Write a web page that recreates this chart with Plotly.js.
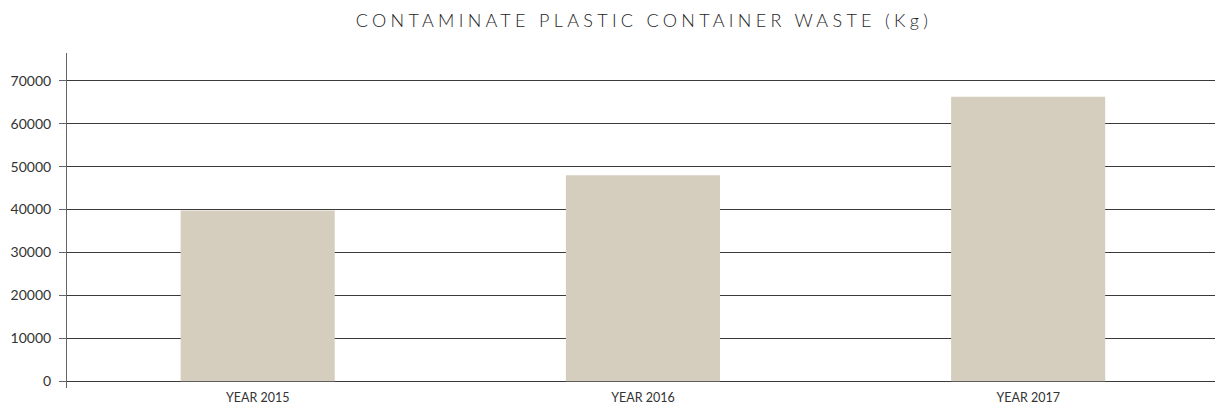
<!DOCTYPE html>
<html>
<head>
<meta charset="utf-8">
<script src="https://cdn.plot.ly/plotly-3.0.1.min.js"></script>
<style>
html,body{margin:0;padding:0;background:#fff;}
#chart{width:1215px;height:414px;}
.gtitle{letter-spacing:4.3px;}
</style>
</head>
<body>
<div id="chart"></div>
<script>
const categories = ["YEAR 2015", "YEAR 2016", "YEAR 2017"];
const wasteKg = [39800, 48000, 66300];
const yTicks = [0, 10000, 20000, 30000, 40000, 50000, 60000, 70000];

const data = [{
  type: "bar",
  x: categories,
  y: wasteKg,
  marker: {color: "#d5cdbe"},
  width: 0.4,
  hoverinfo: "x+y"
}];

const layout = {
  width: 1215,
  height: 414,
  margin: {l: 67, r: 0, t: 53, b: 26},
  paper_bgcolor: "#fff",
  plot_bgcolor: "#fff",
  showlegend: false,
  title: {
    text: "CONTAMINATE PLASTIC CONTAINER WASTE (Kg)",
    x: 0.53, xanchor: "center",
    y: 0.95, yanchor: "middle",
    font: {family: "Lato, 'Open Sans', sans-serif", size: 18, color: "#1e1e1e", weight: 300}
  },
  xaxis: {
    type: "category",
    range: [-0.495, 2.485],
    showgrid: false,
    showline: false,
    ticks: "",
    tickfont: {family: "Lato, sans-serif", size: 12.5, color: "#333"},
    fixedrange: true
  },
  yaxis: {
    range: [-1600, 76500],
    tickvals: yTicks,
    ticktext: yTicks.map(String),
    showgrid: true,
    gridcolor: "#3a3a3a",
    gridwidth: 1,
    zeroline: true,
    zerolinecolor: "#3a3a3a",
    zerolinewidth: 1,
    showline: true,
    linecolor: "#666",
    linewidth: 1,
    ticks: "outside",
    ticklen: 7,
    tickcolor: "#666",
    ticklabelstandoff: 5,
    tickfont: {family: "Lato, sans-serif", size: 14, color: "#333"},
    fixedrange: true
  }
};

Plotly.newPlot("chart", data, layout, {displayModeBar: false, staticPlot: true});
</script>
</body>
</html>
